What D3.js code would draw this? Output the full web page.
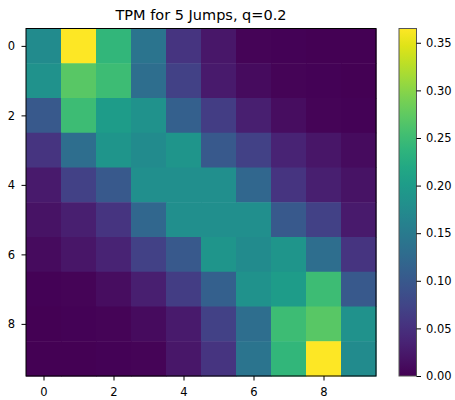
<!DOCTYPE html>
<html>
<head>
<meta charset="utf-8">
<script src="https://cdn.jsdelivr.net/npm/d3@7"></script>
<style>
  body { margin: 0; background: #fff; }
  text { font-family: "DejaVu Sans", sans-serif; fill: #000; }
</style>
</head>
<body>
<div id="canvas"></div>
<script>
// states 0..9, rows = from, cols = to
const states = [0, 1, 2, 3, 4, 5, 6, 7, 8, 9];
const axisTicks = [0, 2, 4, 6, 8];
const cbarTicks = [0, 0.05, 0.10, 0.15, 0.20, 0.25, 0.30, 0.35];
const title = "TPM for 5 Jumps, q=0.2";

// values
const row0 = [0.175, 0.365, 0.24, 0.14, 0.055, 0.022, 0.003, 0.002, 0.001, 0.001];
const row1 = [0.185, 0.27, 0.25, 0.13, 0.07, 0.025, 0.01, 0.003, 0.002, 0.001];
const row2 = [0.10, 0.25, 0.20, 0.185, 0.11, 0.065, 0.03, 0.012, 0.004, 0.002];
const row3 = [0.055, 0.13, 0.19, 0.175, 0.19, 0.10, 0.07, 0.035, 0.02, 0.01];
const row4 = [0.025, 0.07, 0.10, 0.18, 0.18, 0.18, 0.12, 0.055, 0.03, 0.018];
const row5 = [0.018, 0.03, 0.055, 0.12, 0.18, 0.18, 0.18, 0.10, 0.07, 0.025];
const row6 = [0.01, 0.02, 0.035, 0.07, 0.10, 0.19, 0.175, 0.19, 0.13, 0.055];
const row7 = [0.002, 0.004, 0.012, 0.03, 0.065, 0.11, 0.185, 0.20, 0.25, 0.10];
const row8 = [0.001, 0.002, 0.003, 0.01, 0.025, 0.07, 0.13, 0.25, 0.27, 0.185];
const row9 = [0.001, 0.001, 0.002, 0.003, 0.022, 0.055, 0.14, 0.24, 0.365, 0.175];
const matrix = [row0, row1, row2, row3, row4, row5, row6, row7, row8, row9];
const vmin = 0, vmax = 0.365;

const width = 455, height = 400;
const margin = { top: 28.5, left: 26 };
const size = { w: 350, h: 347.5 };
const cbar = { x: 399, y: 28.5, w: 17.5, h: 347.5 };

const svg = d3.select("#canvas").append("svg")
  .attr("width", width)
  .attr("height", height);

const color = d3.scaleSequential(d3.interpolateViridis).domain([vmin, vmax]);

// cell centres sit on integer positions like imshow
const x = d3.scaleLinear().domain([-0.5, 9.5]).range([0, size.w]);
const y = d3.scaleLinear().domain([-0.5, 9.5]).range([0, size.h]);

const g = svg.append("g").attr("transform", `translate(${margin.left},${margin.top})`);

const cells = [];
matrix.forEach((row, i) => row.forEach((v, j) => cells.push({ i, j, v })));

g.selectAll("rect.cell").data(cells).enter().append("rect")
  .attr("class", "cell")
  .attr("x", d => x(d.j - 0.5))
  .attr("y", d => y(d.i - 0.5))
  .attr("width", x(1) - x(0) + 0.5)
  .attr("height", y(1) - y(0) + 0.5)
  .attr("fill", d => color(d.v));

g.append("rect")
  .attr("width", size.w).attr("height", size.h)
  .attr("fill", "none").attr("stroke", "#000").attr("stroke-width", 1);

const xAxis = g.append("g")
  .attr("transform", `translate(0,${size.h})`)
  .call(d3.axisBottom(x).tickValues(axisTicks).tickFormat(d3.format("d")).tickSizeOuter(0).tickSize(4.5).tickPadding(7));
const yAxis = g.append("g")
  .call(d3.axisLeft(y).tickValues(axisTicks).tickFormat(d3.format("d")).tickSizeOuter(0).tickSize(4.5).tickPadding(6.5));
[xAxis, yAxis].forEach(a => {
  a.select(".domain").remove();
  a.selectAll("text").style("font-size", "11.5px").attr("fill", "#000");
  a.selectAll("line").attr("stroke", "#000").attr("stroke-width", 1);
});

svg.append("text")
  .attr("x", margin.left + size.w / 2)
  .attr("y", 20)
  .attr("text-anchor", "middle")
  .style("font-size", "14.5px")
  .text(title);

// colorbar
const defs = svg.append("defs");
const grad = defs.append("linearGradient")
  .attr("id", "cbar").attr("x1", 0).attr("y1", 1).attr("x2", 0).attr("y2", 0);
d3.range(0, 1.0001, 0.05).forEach(t => {
  grad.append("stop").attr("offset", t).attr("stop-color", d3.interpolateViridis(t));
});

const cy = d3.scaleLinear().domain([vmin, vmax]).range([cbar.h, 0]);
const cg = svg.append("g").attr("transform", `translate(${cbar.x},${cbar.y})`);
cg.append("rect")
  .attr("width", cbar.w).attr("height", cbar.h)
  .attr("fill", "url(#cbar)")
  .attr("stroke", "#555").attr("stroke-width", 1);

const cAxis = cg.append("g")
  .attr("transform", `translate(${cbar.w},0)`)
  .call(d3.axisRight(cy).tickValues(cbarTicks).tickFormat(d3.format(".2f")).tickSizeOuter(0).tickSize(4.5).tickPadding(5));
cAxis.select(".domain").remove();
cAxis.selectAll("text").style("font-size", "11.5px").attr("fill", "#000");
cAxis.selectAll("line").attr("stroke", "#000").attr("stroke-width", 1);
</script>
</body>
</html>
